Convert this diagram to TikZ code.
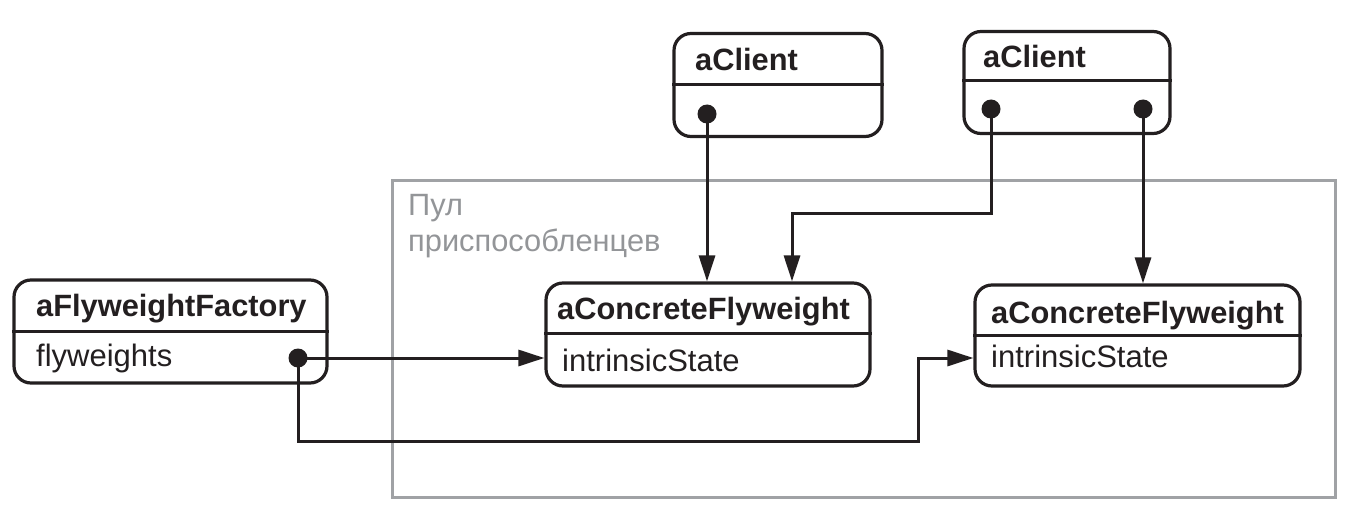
\documentclass[tikz,border=0pt]{standalone}
\usepackage{fontspec}
\setmainfont{Liberation Sans}
\usetikzlibrary{arrows.meta}
\definecolor{ink}{HTML}{231F20}
\definecolor{poolline}{HTML}{A0A2A5}
\definecolor{pooltext}{HTML}{939598}
\begin{document}
\begin{tikzpicture}[x=1pt,y=-1pt,
  objbox/.style={draw=ink, line width=3.2pt, rounded corners=17pt, inner sep=0pt, fill=white},
  divl/.style={draw=ink, line width=3pt},
  ttl/.style={anchor=base west, inner sep=0pt, text=ink, font=\fontsize{30.8pt}{36pt}\selectfont\bfseries},
  body/.style={anchor=base west, inner sep=0pt, text=ink, font=\fontsize{31pt}{36pt}\selectfont},
  pooltxt/.style={anchor=base west, inner sep=0pt, text=pooltext, font=\fontsize{30.8pt}{36pt}\selectfont},
  dot/.style={circle, fill=ink, inner sep=0pt, minimum size=19pt},
  conn/.style={draw=ink, line width=3pt},
  arr/.style={conn, -{Triangle[length=26pt,width=16pt]}}]
\useasboundingbox (0,0) rectangle (1351,516);
% pool
\node[draw=poolline, line width=3pt, minimum width=943pt, minimum height=317pt, inner sep=0pt] (pool) at (863.5,338.5) {};
\node[pooltxt] (pt1) at (408,215) {Пул};
\node[pooltxt] (pt2) at (408,251) {приспособленцев};
% factory
\node[objbox, minimum width=313pt, minimum height=103pt] (f) at (170.5,331.5) {};
\draw[divl] ([yshift=-53pt]f.north west) -- ([yshift=-53pt]f.north east);
\node[ttl] (ft) at (36,316) {aFlyweightFactory};
\node[body] (fb) at (36,366) {flyweights};
% concrete flyweight 1
\node[objbox, minimum width=324pt, minimum height=103pt] (c1) at (708,334.5) {};
\draw[divl] ([yshift=-52pt]c1.north west) -- ([yshift=-52pt]c1.north east);
\node[ttl] (c1t) at (557,319) {aConcreteFlyweight};
\node[body] (c1b) at (562,371) {intrinsicState};
% concrete flyweight 2
\node[objbox, minimum width=325pt, minimum height=101pt] (c2) at (1137.5,335.5) {};
\draw[divl] ([yshift=-52pt]c2.north west) -- ([yshift=-52pt]c2.north east);
\node[ttl] (c2t) at (991,323) {aConcreteFlyweight};
\node[body] (c2b) at (991,367) {intrinsicState};
% client 1
\node[objbox, minimum width=208pt, minimum height=103pt] (a1) at (778,85) {};
\draw[divl] ([yshift=-53pt]a1.north west) -- ([yshift=-53pt]a1.north east);
\node[ttl] (a1t) at (695,71) {aClient};
% client 2
\node[objbox, minimum width=206pt, minimum height=102pt] (a2) at (1067,82.5) {};
\draw[divl] ([yshift=-51pt]a2.north west) -- ([yshift=-51pt]a2.north east);
\node[ttl] (a2t) at (983,68) {aClient};
% dots
\node[dot] (fd) at (298,358) {};
\node[dot] (a1d) at (707,114) {};
\node[dot] (a2l) at (991,109) {};
\node[dot] (a2r) at (1143,109) {};
\coordinate (b1) at (991,213);
\coordinate (b2) at (792,213);
\coordinate (l1) at (298,441);
\coordinate (l2) at (918,441);
\coordinate (l3) at (918,358);
% connectors
\draw[arr] (a1d.center) -- (a1d.center |- c1.north);
\draw[arr] (a2l.center) -- (b1) -- (b2) -- (b2 |- c1.north);
\draw[arr] (a2r.center) -- (a2r.center |- c2.north);
\draw[arr] (fd.center) -- (fd.center -| c1.west);
\draw[arr] (fd.center) -- (l1) -- (l2) -- (l3) -- (l3 -| c2.west);
\end{tikzpicture}
\end{document}
